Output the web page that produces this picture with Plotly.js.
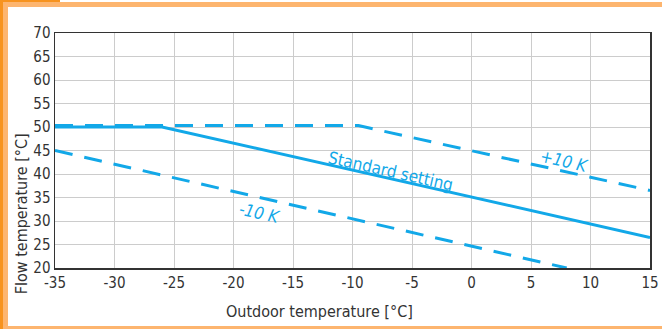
<!DOCTYPE html>
<html><head><meta charset="utf-8">
<script src="https://cdn.plot.ly/plotly-3.0.1.min.js"></script>
<style>
html,body{margin:0;padding:0;background:#fff;}
#wrap{position:relative;width:662px;height:329px;overflow:hidden;}
#chart{position:absolute;left:0;top:0;width:662px;height:329px;}
.b{position:absolute;}
</style></head><body>
<div id="wrap">
<div id="chart"></div>
<div class="b" style="left:0;top:0;width:3px;height:329px;background:#F7931E"></div>
<div class="b" style="left:3px;top:0;width:5px;height:329px;background:#FDB56F"></div>
<div class="b" style="left:0;top:0;width:60px;height:2px;background:#F7931E"></div>
<div class="b" style="left:3px;top:2px;width:659px;height:5px;background:#FDB56F"></div>
<div class="b" style="left:3px;top:326px;width:659px;height:3px;background:#FDB56F"></div>
</div>
<script>
const standardX = [-35, -26, 15];
const standardY = [50, 50, 26.5];
const plus10X = [-35, -9.5, 15];
const plus10Y = [50.3, 50.3, 36.5];
const minus10X = [-35, 8];
const minus10Y = [45, 20];
const xTicks = [-35, -30, -25, -20, -15, -10, -5, 0, 5, 10, 15];
const yTicks = [20, 25, 30, 35, 40, 45, 50, 55, 60, 65, 70];
const labels = [
  {text: 'Standard setting', x: -6.8, y: 40.6, italic: false},
  {text: '+10 K', x: 7.8, y: 42.7, italic: true},
  {text: '-10 K', x: -17.8, y: 31.7, italic: true}
];

const blue = '#12A8E8';
const fam = '"DejaVu Sans Condensed", "Liberation Sans Narrow", sans-serif';
const traces = [
  {x: plus10X, y: plus10Y, mode: 'lines', line: {color: blue, width: 3, dash: '18px,12px'}},
  {x: minus10X, y: minus10Y, mode: 'lines', line: {color: blue, width: 3, dash: '18px,12px'}},
  {x: standardX, y: standardY, mode: 'lines', line: {color: blue, width: 3}}
];
const ann = labels.map(l => ({
  x: l.x, y: l.y, xref: 'x', yref: 'y', text: l.italic ? '<i>' + l.text + '</i>' : l.text,
  showarrow: false, textangle: 12.7, font: {family: fam, size: 17, color: blue}
}));
ann.push({x: 0.445, y: -0.185, xref: 'paper', yref: 'paper', yanchor: 'middle', xanchor: 'center',
  text: 'Outdoor temperature [°C]', showarrow: false, font: {family: fam, size: 16, color: '#333'}});
ann.push({x: -0.055, y: 0.23, xref: 'paper', yref: 'paper', yanchor: 'middle', xanchor: 'center',
  text: 'Flow temperature [°C]', textangle: -90, showarrow: false, font: {family: fam, size: 16, color: '#333'}});
const layout = {
  width: 662, height: 329,
  margin: {l: 55, r: 12, t: 33, b: 61},
  paper_bgcolor: '#fff', plot_bgcolor: '#fff',
  showlegend: false,
  xaxis: {range: [-35, 15], tickvals: xTicks, ticktext: xTicks.map(String), showgrid: true, gridcolor: '#cccccc', gridwidth: 1,
    zeroline: false, showline: true, mirror: true, linecolor: '#333', linewidth: 1.5, ticks: '',
    tickfont: {family: fam, size: 15, color: '#333'}},
  yaxis: {range: [20, 70], tickvals: yTicks, ticktext: yTicks.map(String), showgrid: true, gridcolor: '#cccccc', gridwidth: 1,
    zeroline: false, showline: true, mirror: true, linecolor: '#333', linewidth: 1.5, ticks: '',
    tickfont: {family: fam, size: 15, color: '#333'}},
  annotations: ann
};
Plotly.newPlot('chart', traces, layout, {displayModeBar: false, staticPlot: true});
</script>
</body></html>
